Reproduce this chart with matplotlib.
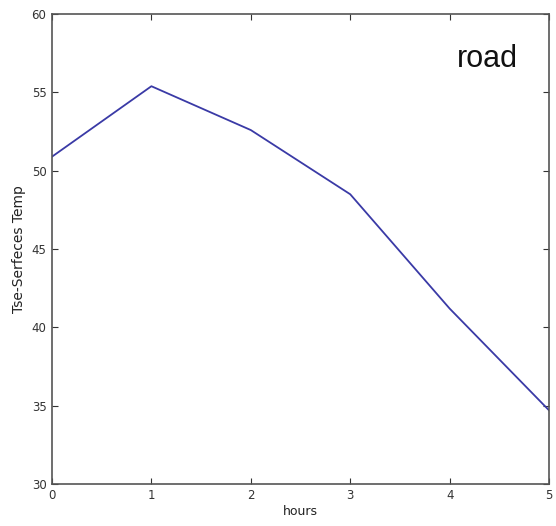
import matplotlib
matplotlib.use('Agg')
from matplotlib import pyplot as plt

# surface temperature over time on the road
hours = [0, 1, 2, 3, 4, 5]
temps = [50.9, 55.4, 52.6, 48.5, 41.2, 34.7]
x_ticks = [0, 1, 2, 3, 4, 5]
y_ticks = [30, 35, 40, 45, 50, 55, 60]


def plot_temps():
    fig = plt.figure(figsize=(5.56, 5.26), dpi=100)
    ax = fig.add_axes([0.0935, 0.080, 0.894, 0.893])
    ax.plot(hours, temps, color='#3a3aa6', linewidth=1.3)

    ax.set_xlim(0, 5)
    ax.set_ylim(30, 60)
    ax.set_xticks(x_ticks)
    ax.set_yticks(y_ticks)
    ax.tick_params(axis='both', which='major', direction='in', length=4,
                   top=True, right=True, labelsize=8.5, colors='#333333',
                   pad=4)
    for spine in ax.spines.values():
        spine.set_color('#555555')
        spine.set_linewidth(1.2)

    ax.set_xlabel('hours', fontsize=9, color='#222222', labelpad=2)
    ax.set_ylabel('Tse-Serfeces Temp', fontsize=10, color='#222222',
                  labelpad=4)
    ax.text(0.937, 0.905, 'road', transform=ax.transAxes, ha='right',
            va='center', fontsize=22, family='Liberation Sans',
            color='#111111')

    fig.savefig('out.png', dpi=100)


if __name__ == '__main__':
    plot_temps()
